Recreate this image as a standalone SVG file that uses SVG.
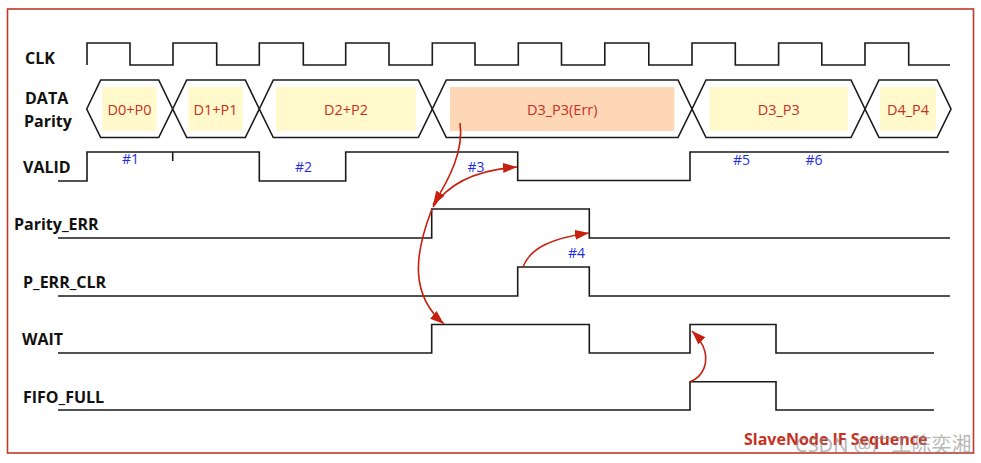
<svg xmlns="http://www.w3.org/2000/svg" width="981" height="463" viewBox="0 0 981 463">
<style>
.sig{fill:none;stroke:#1a1a1a;stroke-width:1.6;stroke-linejoin:miter}
.bus{fill:#fff;stroke:#1a1a1a;stroke-width:1.6;stroke-linejoin:miter}
.lbl{font-family:"Open Sans","Noto Sans","DejaVu Sans",sans-serif;font-weight:bold;font-size:16px;fill:#111}
.dat{font-family:"Open Sans","Noto Sans","DejaVu Sans",sans-serif;font-size:14.5px;fill:#c8301e;text-anchor:middle}
.num{font-family:"Open Sans","Noto Sans","DejaVu Sans",sans-serif;font-size:14px;fill:#1f2be8}
.yel{fill:#fff9cc}
.org{fill:#fdd7b6}
.arr{fill:none;stroke:#c8200e;stroke-width:1.6}
</style>
<defs>
<marker id="ah" markerUnits="userSpaceOnUse" markerWidth="15" markerHeight="11" refX="14" refY="5" orient="auto">
<path d="M0,0 L14,5 L0,10 z" fill="#c8200e"/>
</marker>
</defs>
<rect x="0" y="0" width="981" height="463" fill="#fff"/>
<rect x="7.5" y="9" width="966" height="444" fill="none" stroke="#c0392b" stroke-width="1.6"/>

<g id="labels">
<text class="lbl" x="25" y="64">CLK</text>
<text class="lbl" x="25" y="103.5">DATA</text>
<text class="lbl" x="24" y="127">Parity</text>
<text class="lbl" x="23" y="173">VALID</text>
<text class="lbl" x="14" y="230">Parity_ERR</text>
<text class="lbl" x="23" y="288">P_ERR_CLR</text>
<text class="lbl" x="22" y="345">WAIT</text>
<text class="lbl" x="23" y="403">FIFO_FULL</text>
</g>

<g id="clk">
<path class="sig" d="M87,65 V43 H130 V65 H173 V43 H216.7 V65 H259.3 V43 H303.3 V65 H345.7 V43 H389 V65 H432.3 V43 H475 V65 H518.3 V43 H561.5 V65 H604.8 V43 H648.8 V65 H692 V43 H735.3 V65 H778.6 V43 H821.8 V65 H865 V43 H908.7 V65 H950"/>
</g>

<g id="data">
<g id="d0">
<polygon class="bus" points="86.7,109 100.7,80 158.7,80 172.7,109 158.7,137.5 100.7,137.5"/>
<rect class="yel" x="102.3" y="87" width="54.4" height="44"/>
<text class="dat" x="129.5" y="115">D0+P0</text>
</g>
<g id="d1">
<polygon class="bus" points="172.7,109 186.7,80 245.3,80 259.3,109 245.3,137.5 186.7,137.5"/>
<rect class="yel" x="188.3" y="87" width="54.4" height="44"/>
<text class="dat" x="215.5" y="115">D1+P1</text>
</g>
<g id="d2">
<polygon class="bus" points="259.3,109 273.3,80 418.3,80 432.3,109 418.3,137.5 273.3,137.5"/>
<rect class="yel" x="276" y="87" width="140" height="44"/>
<text class="dat" x="346" y="115">D2+P2</text>
</g>
<g id="d3err">
<polygon class="bus" points="432.3,109 446.3,80 678,80 692,109 678,137.5 446.3,137.5"/>
<rect class="org" x="450" y="87" width="224.4" height="44"/>
<text class="dat" x="562.2" y="115">D3_P3(Err)</text>
</g>
<g id="d3">
<polygon class="bus" points="692,109 706,80 851,80 865,109 851,137.5 706,137.5"/>
<rect class="yel" x="709.7" y="87" width="138.3" height="44"/>
<text class="dat" x="778.8" y="115">D3_P3</text>
</g>
<g id="d4">
<polygon class="bus" points="865,109 879,80 937,80 951,109 937,137.5 879,137.5"/>
<rect class="yel" x="880" y="87" width="56" height="44"/>
<text class="dat" x="908" y="115">D4_P4</text>
</g>
</g>

<g id="valid">
<path class="sig" d="M58,181 H87 V152 H259.3 V181 H345.7 V152 H517.7 V180.5 H690 V152 H949"/>
<path class="sig" d="M172.7,152 V161"/>
</g>
<g id="parity_err"><path class="sig" d="M58,238 H431.7 V209 H589.3 V238 H950"/></g>
<g id="p_err_clr"><path class="sig" d="M58,296 H517.7 V267 H589.3 V296 H950"/></g>
<g id="wait"><path class="sig" d="M58,353 H431.7 V324.5 H589.3 V353 H690 V324.5 H776 V353 H934"/></g>
<g id="fifo_full"><path class="sig" d="M58,410 H690 V381.7 H776 V410 H934"/></g>

<g id="marks">
<text class="num" x="122" y="164">#1</text>
<text class="num" x="295" y="171.5">#2</text>
<text class="num" x="467.5" y="172">#3</text>
<text class="num" x="568" y="258">#4</text>
<text class="num" x="733" y="165">#5</text>
<text class="num" x="805.5" y="165">#6</text>
</g>

<g id="connectors">
<path class="arr" marker-end="url(#ah)" d="M460,123 C464,150 450,178 433,205"/>
<path class="arr" marker-end="url(#ah)" d="M433,207 C448,184 475,170 517,167"/>
<path class="arr" marker-end="url(#ah)" d="M432,209 C414,255 410,295 444,324"/>
<path class="arr" marker-end="url(#ah)" d="M523,267 C530,248 552,238 589,233"/>
<path class="arr" marker-end="url(#ah)" d="M690,381.7 C703,377 710,362 703,346 C700,340 697,336 692,331"/>
</g>

<text x="744" y="445" font-family="'Open Sans','Noto Sans',sans-serif" font-weight="bold" font-size="16" fill="#c8301e">SlaveNode IF Sequence</text>
<text x="795" y="452" font-family="'Noto Sans','Noto Sans CJK SC',sans-serif" font-size="20" fill="#8a8a8a" opacity="0.6">CSDN @广工陈奕湘</text>
</svg>
